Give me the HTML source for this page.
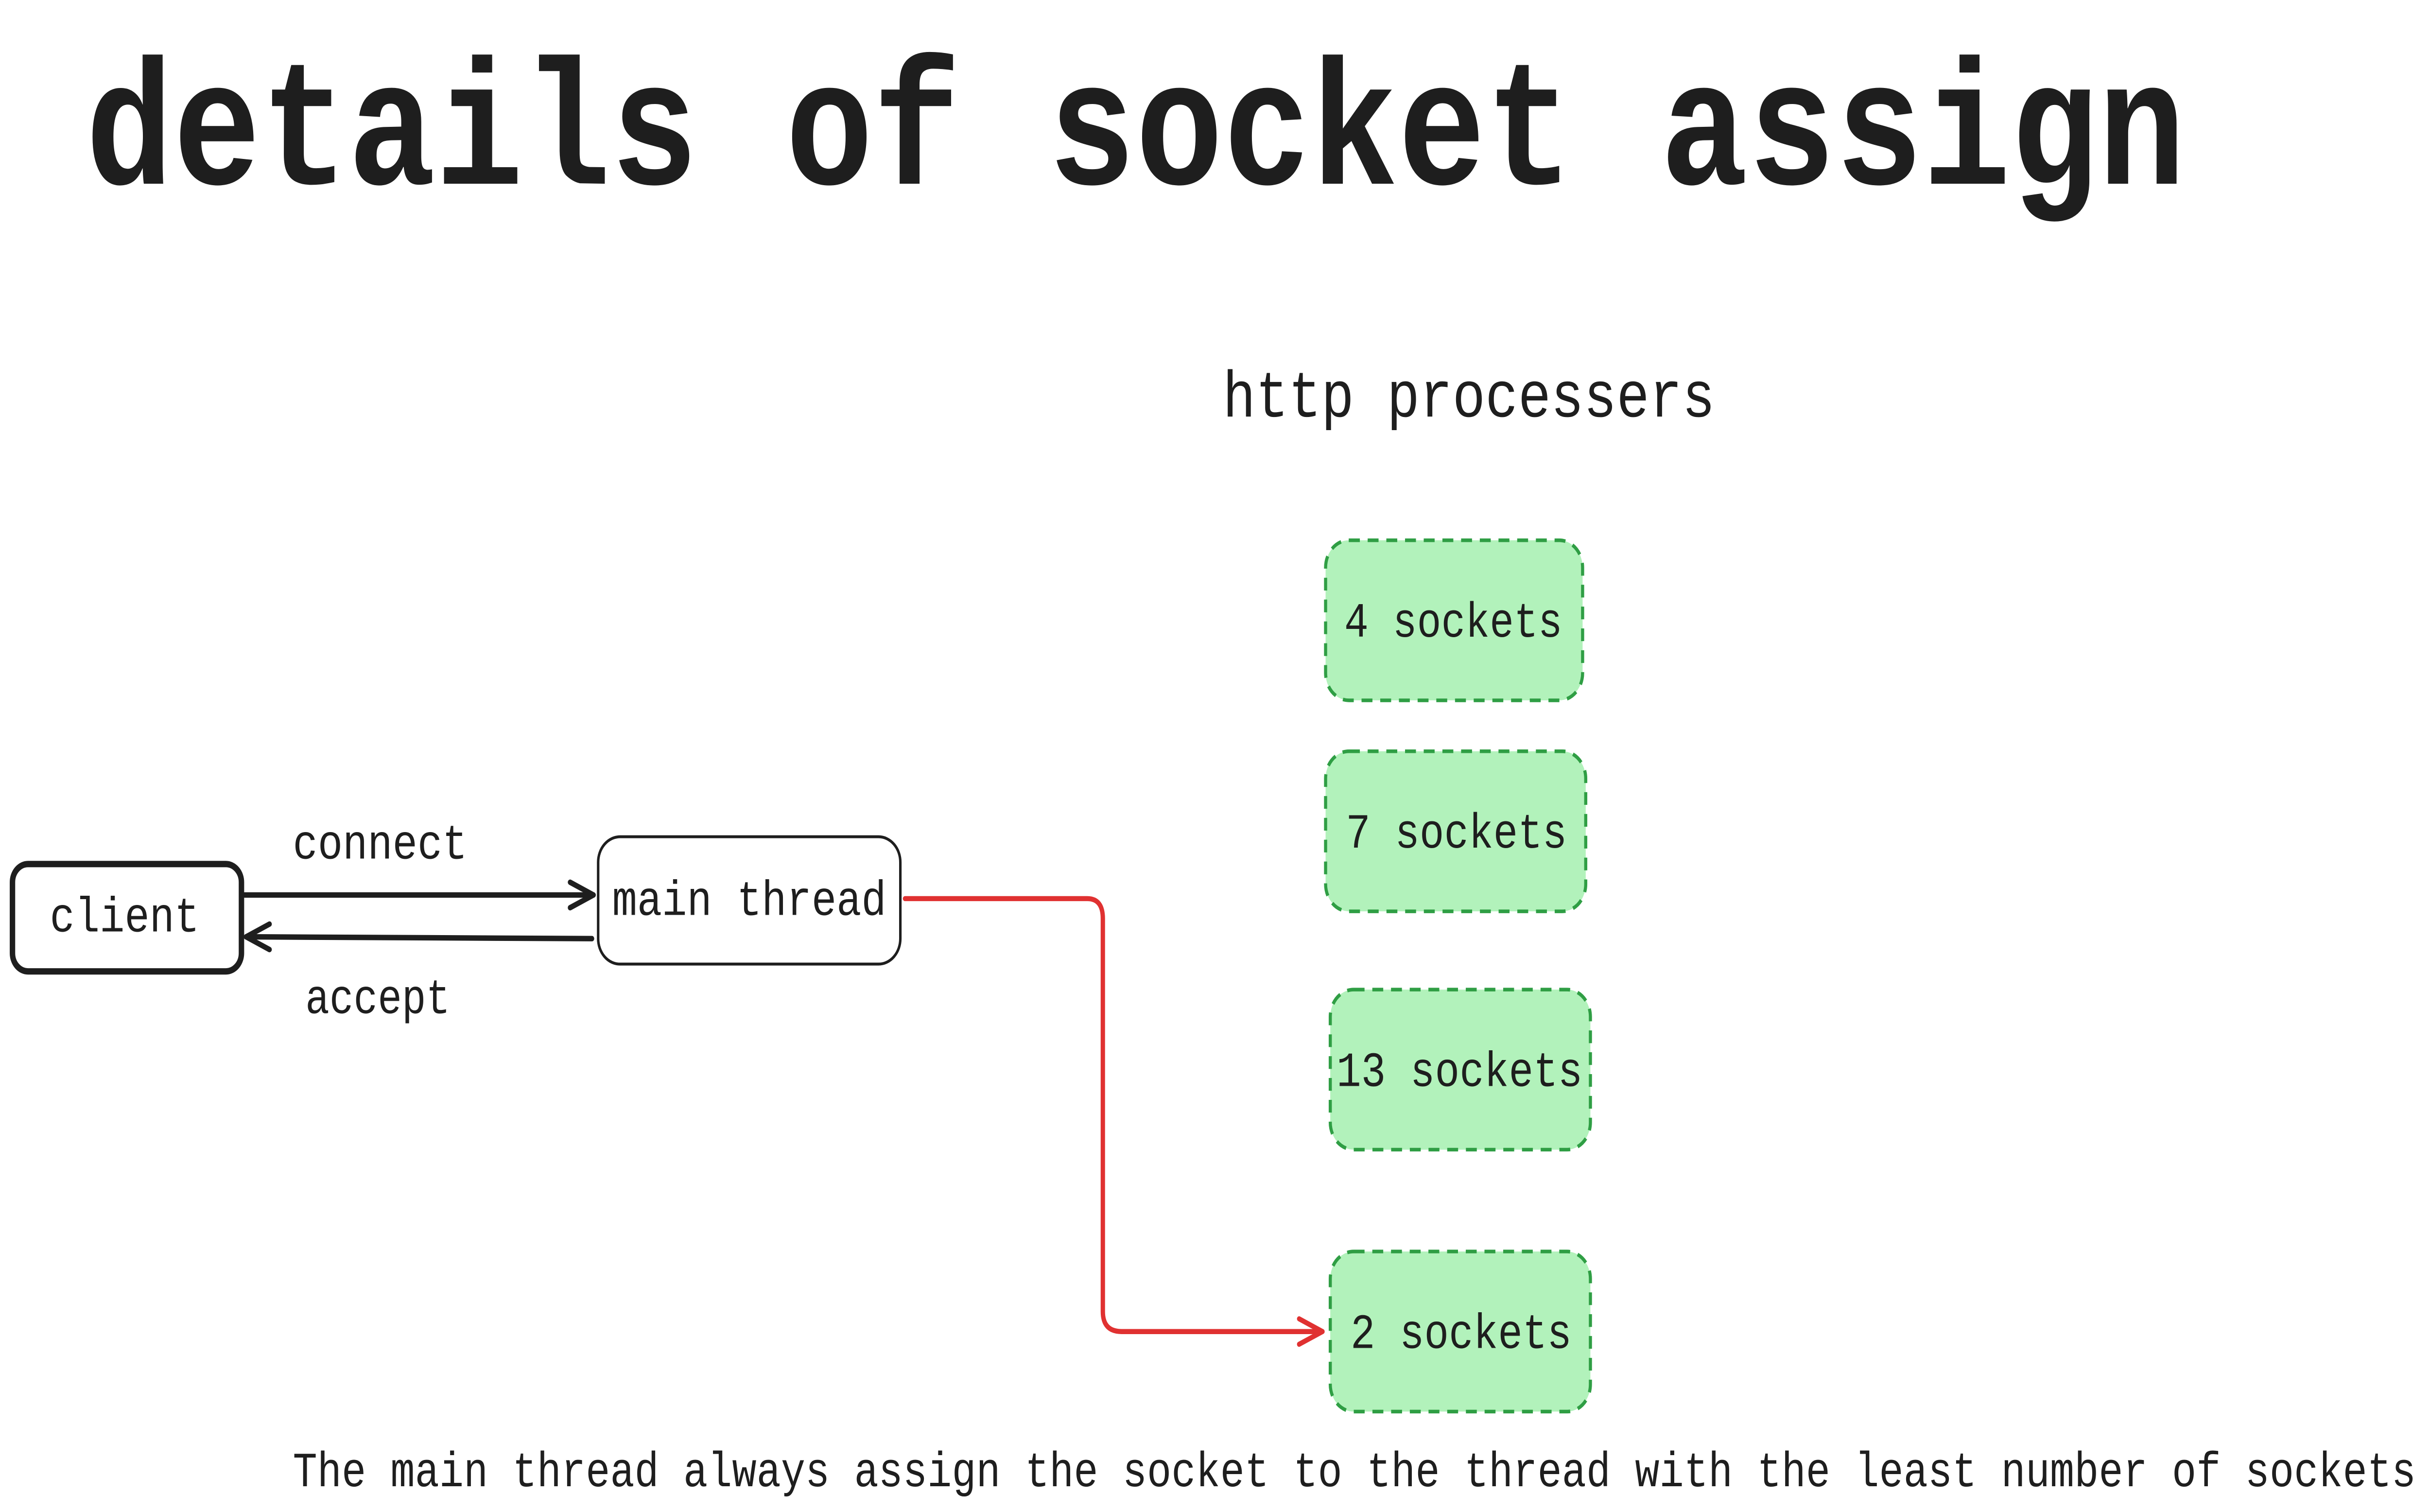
<!DOCTYPE html>
<html><head><meta charset="utf-8"><style>
html,body{margin:0;padding:0;background:#fff;overflow:hidden;width:100vw;height:100vh;}
svg{display:block;width:100vw;height:100vh;}
text{font-family:"Liberation Mono",monospace;fill:#1e1e1e;}
</style></head><body>
<svg width="100%" height="100%" viewBox="0 0 1560 831.2" preserveAspectRatio="none" xmlns="http://www.w3.org/2000/svg">
<rect width="1560" height="831.2" fill="#fff"/>
<text x="55" y="101" font-size="98" textLength="1348" lengthAdjust="spacingAndGlyphs" font-weight="bold">details of socket assign</text>
<text x="785" y="229" font-size="36" textLength="316" lengthAdjust="spacingAndGlyphs">http processers</text>

<g fill="#b2f2bb" stroke="#2f9e44" stroke-width="2" stroke-dasharray="7 5">
<rect x="851" y="297" width="165" height="88" rx="15"/>
<rect x="851" y="413" width="167" height="88" rx="15"/>
<rect x="854" y="544" width="167" height="88" rx="15"/>
<rect x="854" y="688" width="167" height="88" rx="15"/>
</g>
<g font-size="27">
<text x="863" y="350" textLength="140" lengthAdjust="spacingAndGlyphs">4 sockets</text>
<text x="864" y="466" textLength="142" lengthAdjust="spacingAndGlyphs">7 sockets</text>
<text x="858" y="597" textLength="158" lengthAdjust="spacingAndGlyphs">13 sockets</text>
<text x="867" y="741" textLength="142" lengthAdjust="spacingAndGlyphs">2 sockets</text>
</g>

<rect x="8" y="475" width="147" height="59" rx="10" fill="#fff" stroke="#1e1e1e" stroke-width="3.5"/>
<text x="32" y="512" font-size="27" textLength="96" lengthAdjust="spacingAndGlyphs">client</text>
<rect x="384" y="460" width="194" height="70" rx="14" fill="#fff" stroke="#1e1e1e" stroke-width="1.6"/>
<text x="393" y="503" font-size="27" textLength="176" lengthAdjust="spacingAndGlyphs">main thread</text>

<g stroke="#1e1e1e" stroke-width="3" fill="none" stroke-linecap="round" stroke-linejoin="round">
<path d="M157 492 L381 492"/>
<path d="M366 485 L381 492 L366 499"/>
<path d="M380 516 L158 515"/>
<path d="M173 508 L158 515 L173 522"/>
</g>
<text x="188" y="472" font-size="27" textLength="112" lengthAdjust="spacingAndGlyphs">connect</text>
<text x="196" y="557" font-size="27" textLength="93" lengthAdjust="spacingAndGlyphs">accept</text>

<g stroke="#e03131" stroke-width="2.8" fill="none" stroke-linecap="round" stroke-linejoin="round">
<path d="M581 494 L698 494 Q708 494 708 505 L708 721 Q708 732 720 732 L849 732"/>
<path d="M834 725 L849 732 L834 739"/>
</g>

<text x="188" y="817" font-size="27" textLength="1363" lengthAdjust="spacingAndGlyphs">The main thread always assign the socket to the thread with the least number of sockets</text>
</svg>
</body></html>
